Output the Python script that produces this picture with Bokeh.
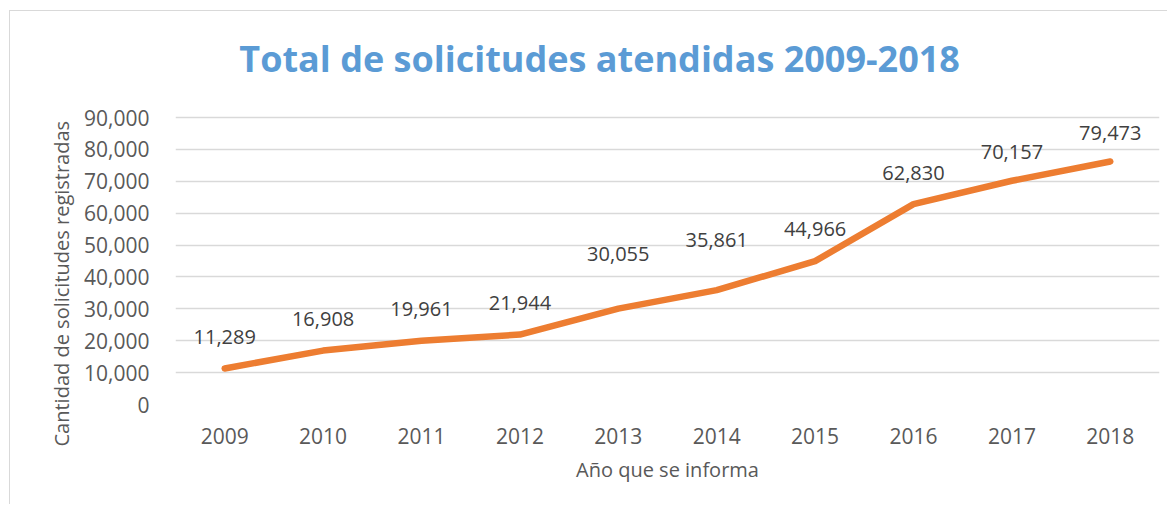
from bokeh.plotting import figure
from bokeh.models import ColumnDataSource, FixedTicker, NumeralTickFormatter, Title, Label
from bokeh.core.properties import value
from bokeh.embed import file_html
from bokeh.resources import INLINE

years = [2009, 2010, 2011, 2012, 2013, 2014, 2015, 2016, 2017, 2018]
solicitudes = [11289, 16908, 19961, 21944, 30055, 35861, 44966, 62830, 70157, 76200]
etiquetas = ["11,289", "16,908", "19,961", "21,944", "30,055", "35,861", "44,966", "62,830", "70,157", "79,473"]
y_ticks = [0, 10000, 20000, 30000, 40000, 50000, 60000, 70000, 80000, 90000]

title_text = "Total de solicitudes atendidas 2009-2018"
y_label = "Cantidad de solicitudes registradas"
x_label = "Año que se informa"

FONT = "Open Sans"
label_offsets = [-32, -32, -32, -32, -55, -50, -32, -31, -29, -29]

# layout (pixels): frame spans from the canvas top down to the zero line
Y_MAX = 90000
PX_TOP_GRID = 106   # distance from canvas top to the 90,000 gridline
PX_GRID = 287       # distance between 90,000 and 0 gridlines
PX_TITLE = 47       # title centre below canvas top
y_top = Y_MAX * (PX_GRID + PX_TOP_GRID) / PX_GRID
title_y = Y_MAX * (PX_GRID + PX_TOP_GRID - PX_TITLE) / PX_GRID

src = ColumnDataSource(dict(x=years, y=solicitudes, lab=etiquetas, off=label_offsets))

p = figure(width=1158, height=494, output_backend="svg", toolbar_location=None,
           x_range=(2008.5, 2018.5), y_range=(0, y_top),
           min_border_left=165, min_border_right=9, min_border_top=0, min_border_bottom=101)
p.styles = {"margin-left": "9px", "margin-top": "10px",
            "border-left": "1px solid #d9d9d9", "border-top": "1px solid #d9d9d9"}
p.outline_line_color = None
p.background_fill_color = "white"
p.border_fill_color = "white"

p.xgrid.grid_line_color = None
p.ygrid.grid_line_color = "#d9d9d9"
p.ygrid.grid_line_width = 1.5
p.ygrid.ticker = FixedTicker(ticks=y_ticks)

p.xaxis.ticker = FixedTicker(ticks=years)
p.yaxis.ticker = FixedTicker(ticks=y_ticks)
p.yaxis.formatter = NumeralTickFormatter(format="0,0")
for ax in (p.xaxis, p.yaxis):
    ax.axis_line_color = None
    ax.major_tick_line_color = None
    ax.minor_tick_line_color = None
    ax.major_label_text_font = FONT
    ax.major_label_text_font_size = "21px"
    ax.major_label_text_color = "#595959"
p.yaxis.major_label_standoff = 20
p.xaxis.major_label_standoff = 17
p.xaxis.axis_label = x_label
p.xaxis.axis_label_text_font = FONT
p.xaxis.axis_label_text_font_size = "20px"
p.xaxis.axis_label_text_font_style = "normal"
p.xaxis.axis_label_text_color = "#595959"
p.xaxis.axis_label_standoff = 9

p.add_layout(Title(text=y_label, align="left", offset=-42, standoff=13,
                   text_font=FONT, text_font_size="20px", text_font_style="normal",
                   text_color="#595959"), "left")

p.add_layout(Label(x=2012.81, y=title_y, text=title_text, text_align="center",
                   text_baseline="middle", text_font=FONT, text_font_size="36px",
                   text_font_style="bold", text_color="#5B9BD5"))

p.line("x", "y", source=src, line_color="#ED7D31", line_width=6.5,
       line_cap="round", line_join="round")
p.text("x", "y", text="lab", source=src, y_offset="off", text_align="center",
       text_baseline="middle", text_font=value(FONT), text_font_size="20px",
       text_color="#404040")

open("out.html", "w").write(file_html(p, INLINE))
